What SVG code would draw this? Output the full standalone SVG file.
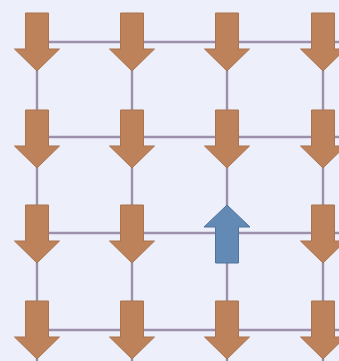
<svg xmlns="http://www.w3.org/2000/svg" xmlns:xlink="http://www.w3.org/1999/xlink" width="339" height="361" viewBox="0 0 339 361">
  <style>
    .grid { stroke: #9c90ad; stroke-width: 2.4; fill: none; }
    .down { fill: #bd8259; stroke: #a9734f; stroke-width: 1; }
    .up { fill: #6389b5; stroke: #4e73a0; stroke-width: 1; }
  </style>
  <defs>
    <!-- block arrows drawn around their own centre line, top at y=0 -->
    <path id="arrowDown" d="M-11.5,0 H11.5 V36 H22.5 L0,58 L-22.5,36 H-11.5 Z"/>
    <path id="arrowUp" d="M0,0 L23,22 H11.5 V58 H-11.5 V22 H-23 Z"/>
  </defs>
  <rect width="339" height="361" fill="#edf0fa"/>

  <!-- lattice bonds -->
  <g id="connectors" class="grid">
    <line x1="37" y1="42" x2="339" y2="42"/>
    <line x1="37" y1="137" x2="339" y2="137"/>
    <line x1="37" y1="233" x2="339" y2="233"/>
    <line x1="37" y1="330" x2="339" y2="330"/>
    <line x1="37" y1="20" x2="37" y2="361"/>
    <line x1="132" y1="20" x2="132" y2="361"/>
    <line x1="227" y1="20" x2="227" y2="361"/>
    <line x1="323" y1="20" x2="323" y2="361"/>
  </g>

  <!-- spins, row by row -->
  <g id="s11"><use xlink:href="#arrowDown" class="down" transform="translate(37,13)"/></g>
  <g id="s12"><use xlink:href="#arrowDown" class="down" transform="translate(132,13)"/></g>
  <g id="s13"><use xlink:href="#arrowDown" class="down" transform="translate(227,13)"/></g>
  <g id="s14"><use xlink:href="#arrowDown" class="down" transform="translate(323,13)"/></g>

  <g id="s21"><use xlink:href="#arrowDown" class="down" transform="translate(37,110)"/></g>
  <g id="s22"><use xlink:href="#arrowDown" class="down" transform="translate(132,110)"/></g>
  <g id="s23"><use xlink:href="#arrowDown" class="down" transform="translate(227,110)"/></g>
  <g id="s24"><use xlink:href="#arrowDown" class="down" transform="translate(323,110)"/></g>

  <g id="s31"><use xlink:href="#arrowDown" class="down" transform="translate(37,205)"/></g>
  <g id="s32"><use xlink:href="#arrowDown" class="down" transform="translate(132,205)"/></g>
  <g id="s33"><use xlink:href="#arrowUp" class="up" transform="translate(227,205)"/></g>
  <g id="s34"><use xlink:href="#arrowDown" class="down" transform="translate(323,205)"/></g>

  <g id="s41"><use xlink:href="#arrowDown" class="down" transform="translate(37,301)"/></g>
  <g id="s42"><use xlink:href="#arrowDown" class="down" transform="translate(132,301)"/></g>
  <g id="s43"><use xlink:href="#arrowDown" class="down" transform="translate(227,301)"/></g>
  <g id="s44"><use xlink:href="#arrowDown" class="down" transform="translate(323,301)"/></g>
</svg>
